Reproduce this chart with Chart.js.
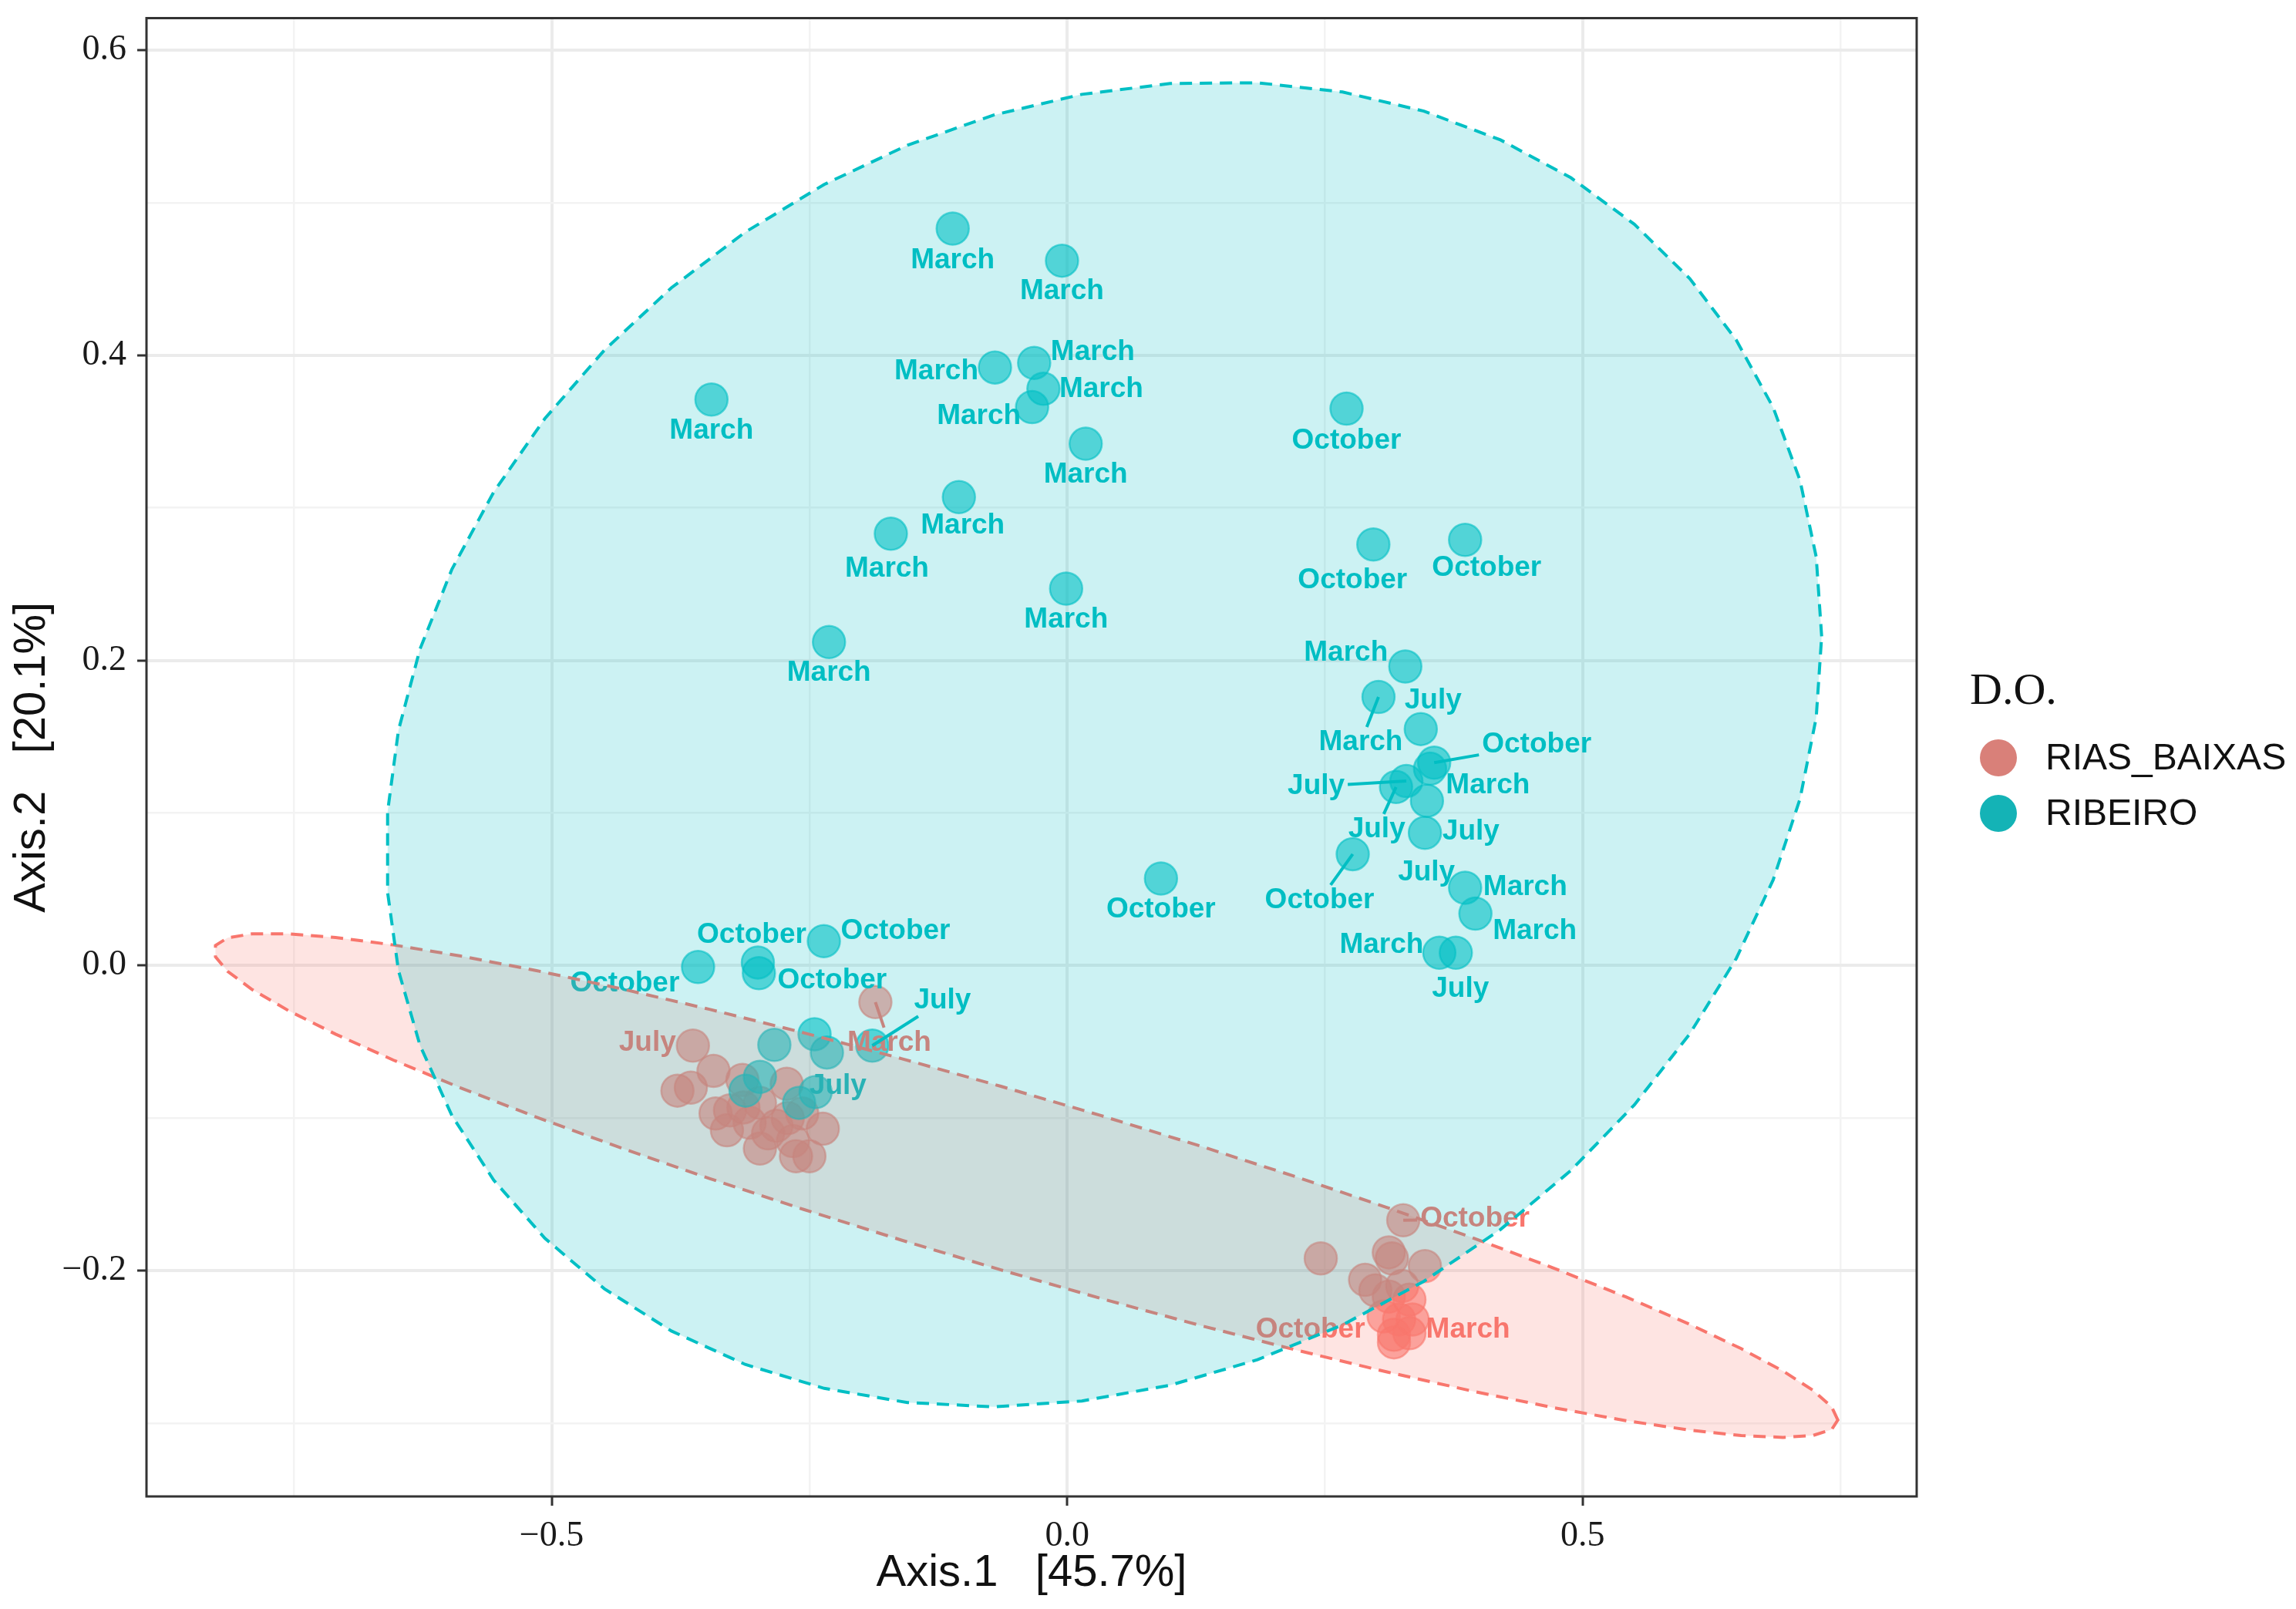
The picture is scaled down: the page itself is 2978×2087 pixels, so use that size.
<!DOCTYPE html>
<html>
<head>
<meta charset="utf-8">
<script src="https://cdn.jsdelivr.net/npm/chart.js@4.4.1/dist/chart.umd.min.js"></script>
<style>
  html, body { margin: 0; padding: 0; background: #ffffff; }
  canvas { display: block; }
</style>
</head>
<body>
<canvas id="pcoa" width="2978" height="2087"></canvas>
<script>
// groups (D.O.)
var groupNames = ['RIAS_BAIXAS', 'RIBEIRO'];

// RIAS_BAIXAS samples
var riasX = [-0.363, -0.186, -0.378, -0.365, -0.343, -0.315, -0.272, -0.341, -0.327, -0.330, -0.308,
             -0.298, -0.298, -0.282, -0.271, -0.266, -0.263, -0.250, -0.237, -0.257, -0.290, -0.314,
             0.326, 0.246, 0.312, 0.315, 0.347, 0.289, 0.299, 0.325, 0.312, 0.332, 0.307, 0.322,
             0.335, 0.317, 0.332, 0.317];
var riasY = [-0.0525, -0.024, -0.082, -0.080, -0.069, -0.075, -0.0775, -0.097, -0.095, -0.108, -0.103,
             -0.090, -0.120, -0.105, -0.100, -0.115, -0.125, -0.125, -0.107, -0.097, -0.110, -0.093,
             -0.167, -0.192, -0.188, -0.192, -0.197, -0.206, -0.213, -0.210, -0.217, -0.219, -0.230, -0.232,
             -0.232, -0.242, -0.241, -0.247];
var riasMonth = ['July', 'March', '', '', '', '', '', '', '', '', '',
                 '', '', '', '', '', '', '', '', '', '', '',
                 'October', '', '', '', '', '', '', '', '', '', 'October', '',
                 'March', '', '', ''];

// RIBEIRO samples
var ribX = [-0.111, -0.005, -0.070, -0.032, -0.023, -0.034, 0.018, -0.105, -0.171, -0.001, -0.231, -0.345,
            0.328, 0.302, 0.343, 0.356, 0.352, 0.329, 0.319, 0.349, 0.347, 0.277, 0.386, 0.396, 0.361, 0.377,
            0.271, 0.297, 0.386, 0.091,
            -0.358, -0.300, -0.299, -0.236, -0.245, -0.233, -0.284, -0.189, -0.298, -0.312, -0.244, -0.260];
var ribY = [0.483, 0.462, 0.392, 0.395, 0.378, 0.366, 0.342, 0.307, 0.283, 0.247, 0.212, 0.371,
            0.196, 0.176, 0.155, 0.133, 0.129, 0.121, 0.117, 0.108, 0.087, 0.073, 0.051, 0.034, 0.0084, 0.0084,
            0.365, 0.276, 0.279, 0.057,
            -0.001, 0.002, -0.005, 0.016, -0.045, -0.057, -0.052, -0.0525, -0.073, -0.082, -0.083, -0.090];
var ribMonth = ['March', 'March', 'March', 'March', 'March', 'March', 'March', 'March', 'March', 'March', 'March', 'March',
                'March', 'March', 'July', 'October', 'March', 'July', 'July', 'July', 'July', 'October', 'March', 'March', 'March', 'July',
                'October', 'October', 'October', 'October',
                'October', 'October', 'October', 'October', '', '', '', 'July', '', '', 'July', ''];

// axis ticks (majors get a label, minors only a grid line)
var xMajor = [-0.5, 0, 0.5];
var xMinor = [-0.75, -0.25, 0.25, 0.75];
var yMajor = [-0.2, 0, 0.2, 0.4, 0.6];
var yMinor = [-0.3, -0.1, 0.1, 0.3, 0.5];

// where the repelled labels sit, in px from their point: [dx, dy, leader line]
var riasLabelPos = [[-59, -3, 0], [18, 53, 1], 0, 0, 0, 0, 0, 0, 0, 0, 0,
                    0, 0, 0, 0, 0, 0, 0, 0, 0, 0, 0,
                    [93, -2, 1], 0, 0, 0, 0, 0, 0, 0, 0, 0, [-95, 17, 0], 0,
                    [72, 13, 0], 0, 0, 0];
var ribLabelPos = [[0, 41, 0], [0, 40, 0], [-76, 5, 0], [76, -14, 0], [75, 0, 0], [-69, 12, 0], [0, 40, 0], [5, 37, 0], [-5, 45, 0], [0, 40, 0], [0, 40, 0], [0, 41, 0],
                   [-77, -18, 0], [-23, 59, 1], [16, -37, 0], [133, -23, 1], [75, 22, 0], [-117, 7, 1], [-25, 55, 1], [57, 40, 0], [2, 52, 0], [-43, 60, 1], [78, -1, 0], [77, 23, 0], [-75, -10, 0], [6, 47, 0],
                   [0, 42, 0], [-27, 47, 0], [28, 37, 0], [0, 40, 0],
                   [-95, 21, 0], [-8, -36, 0], [95, 10, 0], [93, -13, 0], 0, 0, 0, [91, -58, 1], 0, 0, [29, -8, 0], 0];

var pinkRGB = '248,118,109';
var tealRGB = '0,191,196';

function isMajor(v, list) {
    for (var i = 0; i < list.length; i++) {
        if (Math.abs(list[i] - v) < 1e-6) return true;
    }
    return false;
}
function fmt(v) {
    var s = Math.abs(v).toFixed(1);
    return v < -1e-9 ? '\u2212' + s : s;
}

// like stat_ellipse(type = "norm", level = 0.95)
function normEllipse(xs, ys, level) {
    var n = xs.length, i;
    var mx = 0, my = 0;
    for (i = 0; i < n; i++) { mx += xs[i]; my += ys[i]; }
    mx /= n; my /= n;
    var a = 0, b = 0, c = 0;
    for (i = 0; i < n; i++) {
        var dx = xs[i] - mx, dy = ys[i] - my;
        a += dx * dx; b += dx * dy; c += dy * dy;
    }
    a /= n - 1; b /= n - 1; c /= n - 1;
    var d2 = n - 1;
    var qf = d2 / 2 * (Math.pow(1 - level, -2 / d2) - 1); // F(2, d2) quantile
    var r = Math.sqrt(2 * qf);
    var u11 = Math.sqrt(a), u12 = b / u11, u22 = Math.sqrt(c - u12 * u12);
    var pts = [];
    for (var k = 0; k <= 51; k++) {
        var t = k * 2 * Math.PI / 51;
        pts.push([mx + r * Math.cos(t) * u11, my + r * (Math.cos(t) * u12 + Math.sin(t) * u22)]);
    }
    return pts;
}

function toPoints(xs, ys) {
    return xs.map(function (v, i) { return { x: v, y: ys[i] }; });
}

var labelFont = "bold 37px 'Liberation Sans', Arial, sans-serif";

function drawLabels(chart, xs, ys, months, pos, rgb) {
    var ctx = chart.ctx, sx = chart.scales.x, sy = chart.scales.y;
    ctx.font = labelFont;
    ctx.textAlign = 'center';
    ctx.textBaseline = 'middle';
    for (var i = 0; i < xs.length; i++) {
        if (!months[i] || !pos[i]) continue;
        var px = sx.getPixelForValue(xs[i]), py = sy.getPixelForValue(ys[i]);
        var lx = px + pos[i][0], ly = py + pos[i][1];
        if (pos[i][2]) {
            var hw = ctx.measureText(months[i]).width / 2 + 4, hh = 20;
            var ddx = lx - px, ddy = ly - py;
            var t = Math.min(ddx !== 0 ? hw / Math.abs(ddx) : 1e9, ddy !== 0 ? hh / Math.abs(ddy) : 1e9);
            ctx.strokeStyle = 'rgb(' + rgb + ')';
            ctx.lineWidth = 4;
            ctx.beginPath();
            ctx.moveTo(px, py);
            ctx.lineTo(lx - t * ddx, ly - t * ddy);
            ctx.stroke();
        }
        ctx.fillStyle = 'rgb(' + rgb + ')';
        ctx.fillText(months[i], lx, ly);
    }
}

function drawEllipse(chart, pts, rgb) {
    var ctx = chart.ctx, sx = chart.scales.x, sy = chart.scales.y;
    ctx.beginPath();
    pts.forEach(function (p, k) {
        var X = sx.getPixelForValue(p[0]), Y = sy.getPixelForValue(p[1]);
        if (k === 0) ctx.moveTo(X, Y); else ctx.lineTo(X, Y);
    });
    ctx.closePath();
    ctx.fillStyle = 'rgba(' + rgb + ',0.2)';
    ctx.fill();
    ctx.setLineDash([16, 10]);
    ctx.lineWidth = 4;
    ctx.strokeStyle = 'rgb(' + rgb + ')';
    ctx.stroke();
    ctx.setLineDash([]);
}

var overlay = {
    id: 'overlay',
    afterDatasetsDraw: function (chart) {
        var ctx = chart.ctx, a = chart.chartArea;
        ctx.save();
        ctx.beginPath();
        ctx.rect(a.left, a.top, a.right - a.left, a.bottom - a.top);
        ctx.clip();
        drawLabels(chart, riasX, riasY, riasMonth, riasLabelPos, pinkRGB);
        drawLabels(chart, ribX, ribY, ribMonth, ribLabelPos, tealRGB);
        drawEllipse(chart, normEllipse(riasX, riasY, 0.95), pinkRGB);
        drawEllipse(chart, normEllipse(ribX, ribY, 0.95), tealRGB);
        ctx.restore();
    },
    afterDraw: function (chart) {
        var ctx = chart.ctx, a = chart.chartArea;
        ctx.save();
        // panel border
        ctx.strokeStyle = '#333333';
        ctx.lineWidth = 3;
        ctx.strokeRect(a.left, a.top, a.right - a.left, a.bottom - a.top);
        // axis titles
        ctx.fillStyle = '#111111';
        ctx.font = "58px 'Liberation Sans', Arial, sans-serif";
        ctx.textAlign = 'center';
        ctx.textBaseline = 'middle';
        ctx.fillText('Axis.1   [45.7%]', (a.left + a.right) / 2, 2041);
        ctx.save();
        ctx.translate(42, (a.top + a.bottom) / 2);
        ctx.rotate(-Math.PI / 2);
        ctx.fillText('Axis.2   [20.1%]', 0, 0);
        ctx.restore();
        // legend
        ctx.textAlign = 'left';
        ctx.font = "58px 'Liberation Serif', serif";
        ctx.fillText('D.O.', 2555, 898);
        var keyCol = ['#d98079', '#14b3b6'];
        ctx.font = "48px 'Liberation Sans', Arial, sans-serif";
        groupNames.forEach(function (g, i) {
            var cy = 983 + i * 72;
            ctx.fillStyle = keyCol[i];
            ctx.beginPath();
            ctx.arc(2592, cy, 24, 0, Math.PI * 2);
            ctx.fill();
            ctx.fillStyle = '#111111';
            ctx.fillText(g, 2653, cy + 2);
        });
        ctx.restore();
    }
};

function noPad(s) { s.paddingTop = 0; s.paddingBottom = 0; s.paddingLeft = 0; s.paddingRight = 0; }

var ctx = document.getElementById('pcoa').getContext('2d');
var myChart = new Chart(ctx, {
    type: 'scatter',
    data: {
        datasets: [{
            label: groupNames[0],
            data: toPoints(riasX, riasY),
            order: 1,
            pointRadius: 21,
            pointBorderWidth: 2.5,
            backgroundColor: 'rgba(' + pinkRGB + ',0.6)',
            borderColor: 'rgba(' + pinkRGB + ',0.6)'
        }, {
            label: groupNames[1],
            data: toPoints(ribX, ribY),
            order: 0,
            pointRadius: 21,
            pointBorderWidth: 2.5,
            backgroundColor: 'rgba(' + tealRGB + ',0.6)',
            borderColor: 'rgba(' + tealRGB + ',0.6)'
        }]
    },
    options: {
        responsive: false,
        animation: false,
        devicePixelRatio: 1,
        layout: { padding: { left: 0, top: 22, right: 492, bottom: 0 } },
        plugins: { legend: { display: false }, tooltip: { enabled: false } },
        scales: {
            x: {
                type: 'linear', min: -0.893, max: 0.824,
                afterBuildTicks: function (s) {
                    s.ticks = xMajor.concat(xMinor).sort(function (p, q) { return p - q; }).map(function (v) { return { value: v }; });
                },
                afterFit: function (s) { s.height = 146; noPad(s); },
                border: { display: false },
                grid: {
                    tickLength: 12,
                    color: function (c) { return isMajor(c.tick.value, xMajor) ? '#ebebeb' : '#f3f3f3'; },
                    lineWidth: function (c) { return isMajor(c.tick.value, xMajor) ? 4 : 2.5; },
                    tickColor: function (c) { return isMajor(c.tick.value, xMajor) ? '#333333' : 'rgba(0,0,0,0)'; },
                    tickWidth: 3
                },
                ticks: {
                    autoSkip: false, maxRotation: 0, padding: 12, color: '#1a1a1a',
                    font: { family: "'Liberation Serif', serif", size: 46 },
                    callback: function (v) { return isMajor(v, xMajor) ? fmt(v) : ''; }
                }
            },
            y: {
                type: 'linear', min: -0.348, max: 0.621,
                afterBuildTicks: function (s) {
                    s.ticks = yMajor.concat(yMinor).sort(function (p, q) { return p - q; }).map(function (v) { return { value: v }; });
                },
                afterFit: function (s) { s.width = 190; noPad(s); },
                border: { display: false },
                grid: {
                    tickLength: 12,
                    color: function (c) { return isMajor(c.tick.value, yMajor) ? '#ebebeb' : '#f3f3f3'; },
                    lineWidth: function (c) { return isMajor(c.tick.value, yMajor) ? 4 : 2.5; },
                    tickColor: function (c) { return isMajor(c.tick.value, yMajor) ? '#333333' : 'rgba(0,0,0,0)'; },
                    tickWidth: 3
                },
                ticks: {
                    autoSkip: false, padding: 14, color: '#1a1a1a',
                    font: { family: "'Liberation Serif', serif", size: 46 },
                    callback: function (v) { return isMajor(v, yMajor) ? fmt(v) : ''; }
                }
            }
        }
    },
    plugins: [overlay]
});
</script>
</body>
</html>
